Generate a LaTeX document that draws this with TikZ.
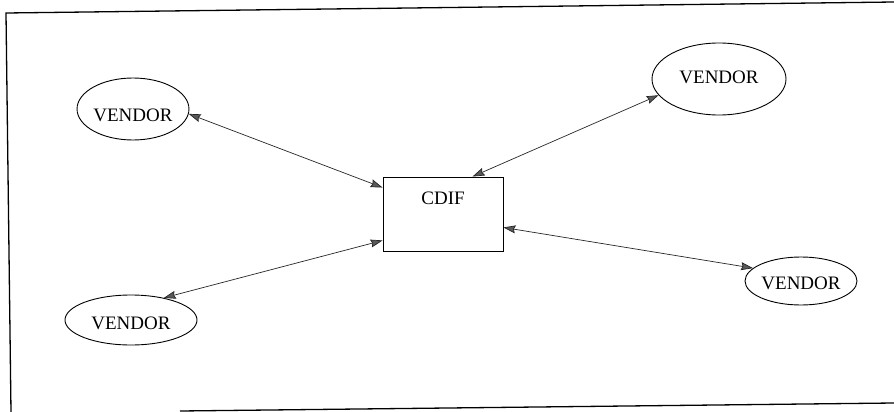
\documentclass[tikz,border=0pt]{standalone}
\usepackage{fontspec}
\setmainfont{Liberation Serif}
\usetikzlibrary{shapes.geometric,arrows.meta,calc}
\begin{document}
\begin{tikzpicture}[x=1pt,y=-1pt,
  vendor/.style={ellipse,draw,line width=0.9pt,inner sep=0pt,
    font=\fontsize{19}{21}\selectfont},
  store/.style={rectangle,draw,line width=0.9pt,inner sep=0pt,
    font=\fontsize{19}{21}\selectfont},
  link/.style={line width=0.7pt,draw=black!85,{Stealth[length=12pt,width=8pt,inset=1.5pt,fill=black!65]}-{Stealth[length=12pt,width=8pt,inset=1.5pt,fill=black!65]}},
  frameline/.style={line width=1.3pt}]
\useasboundingbox (0,0) rectangle (894,412);

% outer frame (slightly skewed)
\draw[frameline] (894,2) -- (6,13) -- (11,412);
\draw[frameline] (180,411) -- (894,403);

% central repository, caption near the top edge
\node[store,minimum width=120pt,text height=27.6pt,text depth=46.4pt]
  (cdif) at (443,214) {CDIF};

% vendors
\node[vendor,minimum width=100pt,minimum height=62pt,text height=24.6pt,text depth=0pt]
  (tl) at (133,109) {VENDOR};
\node[vendor,minimum width=134pt,minimum height=72pt,text height=12.6pt,text depth=4pt]
  (tr) at (719,79) {VENDOR};
\node[vendor,minimum width=112pt,minimum height=48pt,text height=16.6pt,text depth=0pt]
  (br) at (801,281) {VENDOR};
\node[vendor,minimum width=132pt,minimum height=50pt,text height=18.6pt,text depth=0pt]
  (bl) at (131,320) {VENDOR};

% exchange links
\draw[link] (tl.-5) -- ($(cdif.north west)+(0,11)$);
\draw[link] (bl.34) -- ($(cdif.south west)+(0,-11)$);
\draw[link] (tr.195) -- ($(cdif.north west)+(90,0)$);
\draw[link] ($(cdif.south east)+(0,-24)$) -- (br.165);
\end{tikzpicture}
\end{document}
